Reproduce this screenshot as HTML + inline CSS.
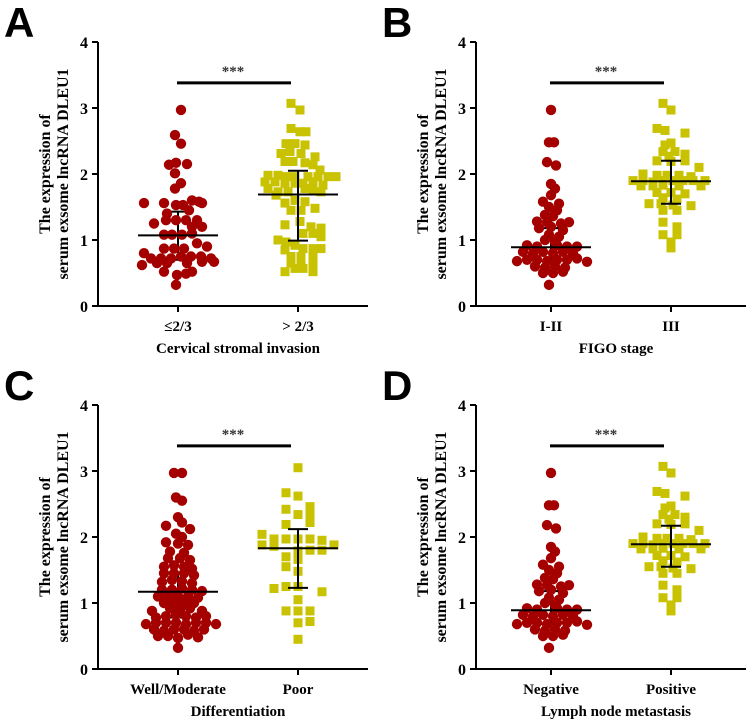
<!DOCTYPE html>
<html><head><meta charset="utf-8"><style>
body{margin:0;background:#fff;}
svg{display:block;font-family:"Liberation Serif",serif;}
.letter{font-family:"Liberation Sans",sans-serif;font-weight:bold;font-size:42px;}
.tick{font-weight:bold;font-size:16px;}
.ttl{font-weight:bold;font-size:15px;}
.yt{font-weight:bold;font-size:16px;}
</style></head><body>
<svg id="chart" width="755" height="720" viewBox="0 0 755 720"></svg>
<script>
// Panel A data: [jitter px, value]
const aRed=[[3,2.97],[-3,2.59],[3,2.46],[-9,2.14],[-2,2.17],[9,2.15],[-3,2.01],[3,1.86],[-3,1.78],[-34,1.56],[-14,1.56],[-2,1.53],[5,1.53],[14,1.6],[21,1.58],[24,1.56],[-11,1.40],[11,1.45],[-24,1.25],[-12,1.30],[-2,1.30],[8,1.30],[19,1.30],[14,1.2],[24,1.2],[-14,1.08],[-6,1.08],[4,1.08],[14,1.1],[-34,0.8],[-14,0.87],[-4,0.87],[6,0.87],[19,0.95],[29,0.9],[-27,0.72],[-17,0.72],[-7,0.72],[3,0.75],[13,0.75],[23,0.75],[33,0.72],[-36,0.62],[-21,0.65],[-11,0.65],[9,0.65],[24,0.67],[36,0.67],[-14,0.52],[-1,0.47],[8,0.49],[14,0.52],[-2,0.32]];
const aYel=[[-7,3.07],[2,2.97],[-7,2.69],[2,2.64],[8,2.64],[-12,2.46],[-3,2.46],[7,2.44],[-17,2.31],[-8,2.34],[3,2.31],[17,2.26],[-13,2.19],[-5,2.19],[7,2.17],[15,2.14],[22,2.06],[-30,1.98],[-20,1.98],[-12,1.96],[-3,1.96],[10,1.96],[20,1.96],[30,1.96],[38,1.96],[-33,1.88],[-23,1.88],[-13,1.86],[-3,1.86],[5,1.86],[15,1.88],[25,1.83],[-30,1.78],[-20,1.73],[-10,1.73],[7,1.78],[15,1.76],[23,1.73],[-22,1.68],[-13,1.56],[-3,1.6],[7,1.58],[-7,1.45],[3,1.45],[17,1.48],[-13,1.23],[2,1.28],[13,1.2],[23,1.18],[5,1.1],[15,1.1],[23,1.05],[-20,1.0],[-12,0.97],[-3,0.92],[-13,0.85],[5,0.87],[15,0.87],[23,0.87],[-7,0.75],[3,0.75],[15,0.75],[-7,0.65],[3,0.65],[15,0.62],[-13,0.52],[-3,0.57],[5,0.57],[15,0.52]];
// Panel B data
const bRed=[[0,2.97],[-2,2.48],[3,2.48],[-4,2.18],[5,2.13],[0,1.85],[4,1.78],[0,1.68],[-8,1.58],[8,1.55],[-2,1.5],[6,1.45],[-6,1.38],[2,1.36],[-14,1.28],[-4,1.27],[10,1.25],[18,1.27],[-12,1.18],[0,1.2],[12,1.15],[-2,1.08],[8,1.05],[-6,1.0],[4,0.97],[-24,0.92],[-14,0.9],[6,0.92],[16,0.9],[26,0.9],[-28,0.82],[-18,0.8],[-8,0.82],[2,0.8],[12,0.82],[22,0.8],[-34,0.68],[-24,0.7],[-14,0.7],[-4,0.68],[6,0.7],[16,0.7],[26,0.72],[36,0.67],[-16,0.6],[-6,0.58],[4,0.6],[14,0.58],[-8,0.5],[2,0.5],[12,0.52],[-2,0.32]];
const bYel=[[-8,3.07],[0,2.97],[-14,2.69],[-6,2.66],[14,2.62],[-6,2.44],[0,2.47],[-8,2.34],[4,2.34],[14,2.3],[-2,2.27],[-14,2.2],[0,2.19],[14,2.2],[28,2.1],[-28,2.0],[-14,1.98],[-4,1.98],[8,1.98],[20,1.96],[-38,1.9],[-28,1.9],[-18,1.88],[-8,1.9],[2,1.9],[12,1.9],[22,1.9],[34,1.9],[-30,1.82],[-18,1.82],[-8,1.83],[8,1.82],[30,1.82],[-14,1.72],[0,1.72],[14,1.7],[-8,1.64],[6,1.62],[-22,1.55],[-10,1.55],[2,1.53],[20,1.52],[-8,1.45],[6,1.45],[-8,1.27],[6,1.2],[-8,1.08],[6,1.08],[0,0.97],[0,0.88]];
// Panel C data
const cRed=[[-4,2.97],[4,2.97],[-2,2.6],[4,2.55],[0,2.3],[4,2.22],[-12,2.17],[12,2.12],[-2,2.05],[4,2.0],[-12,1.92],[0,1.9],[10,1.88],[-8,1.78],[6,1.76],[-10,1.68],[2,1.68],[12,1.65],[-14,1.55],[-4,1.57],[6,1.55],[14,1.52],[-14,1.45],[-4,1.45],[6,1.45],[16,1.42],[-16,1.32],[-6,1.35],[4,1.33],[14,1.3],[-16,1.2],[-6,1.2],[4,1.22],[14,1.2],[24,1.18],[-20,1.1],[-10,1.1],[0,1.1],[10,1.1],[20,1.08],[-14,1.0],[-4,1.0],[6,1.0],[16,1.0],[-26,0.88],[-8,0.92],[2,0.9],[12,0.92],[24,0.88],[-22,0.78],[-12,0.8],[-2,0.82],[8,0.8],[18,0.78],[28,0.8],[-32,0.68],[-22,0.7],[-12,0.7],[-2,0.7],[8,0.68],[18,0.7],[28,0.7],[38,0.68],[-24,0.6],[-14,0.58],[-4,0.6],[6,0.6],[16,0.58],[26,0.6],[-20,0.5],[-10,0.5],[0,0.47],[10,0.52],[20,0.48],[0,0.32]];
const cYel=[[0,3.05],[-12,2.67],[0,2.62],[12,2.46],[-12,2.42],[12,2.34],[0,2.34],[12,2.22],[-12,2.19],[-36,2.04],[-24,1.97],[-12,1.97],[0,1.97],[12,1.97],[24,1.95],[-36,1.88],[-24,1.86],[36,1.88],[0,1.79],[12,1.8],[24,1.8],[-12,1.7],[0,1.66],[-12,1.55],[0,1.48],[-24,1.22],[-12,1.25],[0,1.25],[24,1.17],[0,1.05],[-12,0.88],[0,0.88],[12,0.88],[0,0.7],[12,0.72],[0,0.45]];
// Panel D data (same cohort split as B)
const dRed=bRed.slice();
const dYel=bYel.slice();
// summary stats: [median, upper, lower]
const statsRed=[[1.07,1.43,0.7],[0.89,1.18,0.68],[1.17,1.45,0.78],[0.89,1.18,0.68]];
const statsYel=[[1.69,2.05,0.99],[1.89,2.2,1.55],[1.83,2.12,1.23],[1.89,2.17,1.55]];
const yTicks=[0,1,2,3,4];
const letters=["A","B","C","D"];
const catLabels=[["≤2/3","> 2/3"],["I-II","III"],["Well/Moderate","Poor"],["Negative","Positive"]];
const xTitles=["Cervical stromal invasion","FIGO stage","Differentiation","Lymph node metastasis"];
const redSets=[aRed,bRed,cRed,dRed];
const yelSets=[aYel,bYel,cYel,dYel];

const NS="http://www.w3.org/2000/svg";
const svg=document.getElementById('chart');
function mk(tag,attrs,parent,text){const e=document.createElementNS(NS,tag);for(const k in attrs)e.setAttribute(k,attrs[k]);if(text!==undefined)e.textContent=text;(parent||svg).appendChild(e);return e;}
const offs=[[0,0],[378,0],[0,363],[378,363]];
const catShift=[0,-5,0,-5];
offs.forEach((o,p)=>{
  const ox=o[0],oy=o[1];
  const g=mk('g',{});
  
  
  const y=v=>oy+306-v*66;
  const cx=[ox+178+catShift[p],ox+298+catShift[p]];
  const L=mk('text',{x:ox+4,y:oy+37,class:'letter'},g,letters[p]);
  
  const ax=mk('line',{x1:ox+98,y1:y(4),x2:ox+98,y2:y(0)+1,stroke:'#000','stroke-width':2},g);
  
  const xa=mk('line',{x1:ox+97,y1:y(0),x2:ox+368,y2:y(0),stroke:'#000','stroke-width':2},g);
  
  yTicks.forEach(t=>{
    mk('line',{x1:ox+92,y1:y(t),x2:ox+98,y2:y(t),stroke:'#000','stroke-width':2},g);
    const tl=mk('text',{x:ox+88,y:y(t)+6,'text-anchor':'end',class:'tick'},g,String(t));
    
  });
  cx.forEach((c,i)=>{
    mk('line',{x1:c,y1:y(0),x2:c,y2:y(0)+6,stroke:'#000','stroke-width':2},g);
    const cl=mk('text',{x:c,y:y(0)+25,'text-anchor':'middle',class:'ttl'},g,catLabels[p][i]);
    
  });
  const xt=mk('text',{x:ox+238,y:y(0)+47,'text-anchor':'middle',class:'ttl'},g,xTitles[p]);
  
  const yt=mk('text',{transform:`translate(${ox+50},${y(2)}) rotate(-90)`,'text-anchor':'middle',class:'yt'},g);
  
  mk('tspan',{x:0,y:0},yt,'The  expression of');
  mk('tspan',{x:0,y:18},yt,'serum exsome lncRNA DLEU1');
  function whisk(s,c){
    mk('line',{x1:c,y1:y(s[1]),x2:c,y2:y(s[2]),stroke:'#000','stroke-width':2},g);
    mk('line',{x1:c-10,y1:y(s[1]),x2:c+10,y2:y(s[1]),stroke:'#000','stroke-width':2},g);
    mk('line',{x1:c-10,y1:y(s[2]),x2:c+10,y2:y(s[2]),stroke:'#000','stroke-width':2},g);
  }
  whisk(statsRed[p],cx[0]);
  redSets[p].forEach(d=>{
    const c=mk('circle',{cx:cx[0]+d[0],cy:y(d[1]),r:5.2,fill:'#a50000'},g);
    
  });
  yelSets[p].forEach(d=>{
    const r=mk('rect',{x:cx[1]+d[0]-4.5,y:y(d[1])-4.5,width:9,height:9,fill:'#c8c200'},g);
    
  });
  whisk(statsYel[p],cx[1]);
  [statsRed[p],statsYel[p]].forEach((s,i)=>{
    const c=cx[i];
    const m=mk('line',{x1:c-40,y1:y(s[0]),x2:c+40,y2:y(s[0]),stroke:'#000','stroke-width':2},g);
    
  });
  const sb=mk('line',{x1:cx[0]-1,y1:y(3.38),x2:cx[1]-7,y2:y(3.38),stroke:'#000','stroke-width':3},g);
  
  const st=mk('text',{x:(cx[0]+cx[1])/2-5,y:y(3.38)-7,'text-anchor':'middle','font-size':'15px','font-weight':'bold',fill:'#333'},g,'***');
  
});
</script>
</body></html>
